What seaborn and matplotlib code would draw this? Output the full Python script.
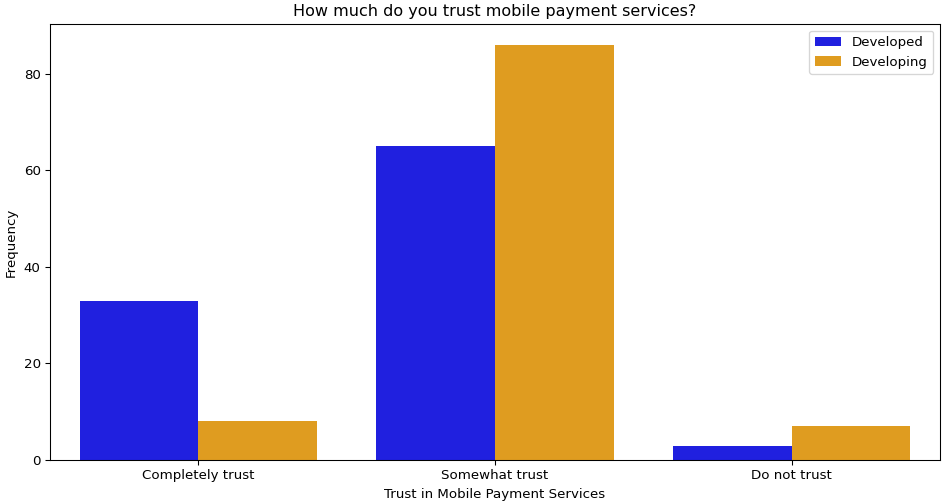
import pandas as pd
import numpy as np
import matplotlib
matplotlib.use('Agg')
import matplotlib.pyplot as plt
import seaborn as sns

categories = ['Completely trust', 'Somewhat trust', 'Do not trust']
developed = [33, 65, 3]
developing = [8, 86, 7]

df = pd.DataFrame({
    'trust': categories * 2,
    'count': developed + developing,
    'group': ['Developed'] * 3 + ['Developing'] * 3,
})

fig = plt.figure(figsize=(945 / 96, 502 / 96), dpi=96)
ax = fig.add_axes([50 / 945, 42 / 502, 890 / 945, 436 / 502])
sns.barplot(data=df, x='trust', y='count', hue='group', order=categories,
            palette=['blue', 'orange'], ax=ax)
ax.set_title('How much do you trust mobile payment services?')
ax.set_xlabel('Trust in Mobile Payment Services')
ax.set_ylabel('Frequency')
ax.legend(loc='upper right')
fig.savefig('out.png', dpi=96)
